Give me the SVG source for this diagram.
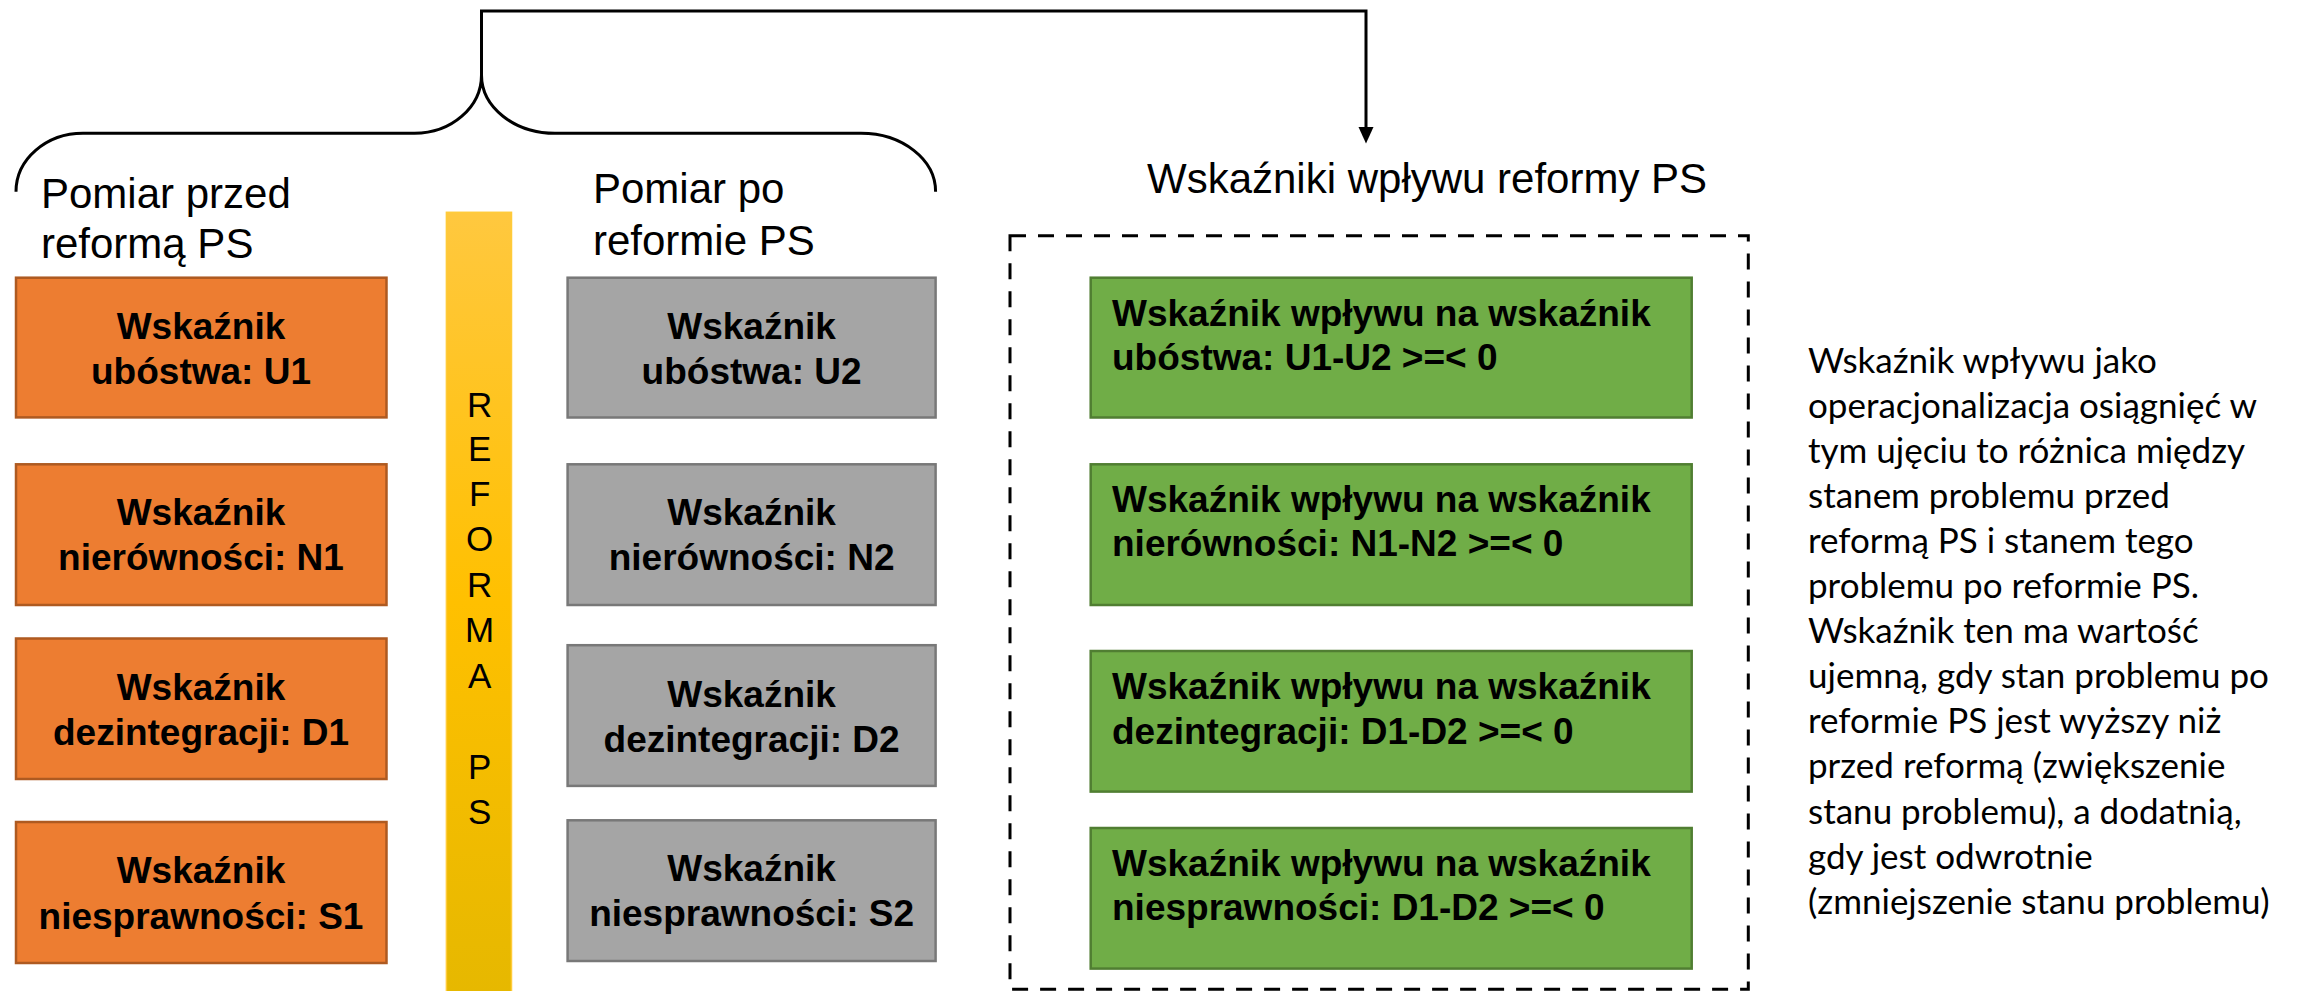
<svg xmlns="http://www.w3.org/2000/svg" width="2298" height="991" viewBox="0 0 2298 991">
<style>
.hdr{font-family:"Liberation Sans",Arial,sans-serif;font-size:42px;fill:#000}
.lbl{font-family:"Liberation Sans",Arial,sans-serif;font-size:37px;font-weight:bold;fill:#000}
.ctr{text-anchor:middle}
.orange{fill:#ED7D31;stroke:#AE5A21;stroke-width:2.5}
.gray{fill:#A5A5A5;stroke:#787878;stroke-width:2.5}
.green{fill:#70AD47;stroke:#507E32;stroke-width:2.5}
.note{font-family:Lato,"Liberation Sans",sans-serif;font-size:35px;fill:#000}
.ref{font-family:"Liberation Sans",Arial,sans-serif;font-size:35px;fill:#000;text-anchor:middle}
.line{fill:none;stroke:#000;stroke-width:3}
</style>
<defs>
<linearGradient id="yg" x1="0" y1="0" x2="0" y2="1">
<stop offset="0" stop-color="#FFC83F"/>
<stop offset="0.5" stop-color="#FFC000"/>
<stop offset="1" stop-color="#E6B800"/>
</linearGradient>
<marker id="arr" markerWidth="15" markerHeight="16" refX="7.5" refY="15" orient="auto-start-reverse" markerUnits="userSpaceOnUse" viewBox="0 0 15 16">
<path d="M0,0 L15,0 L7.5,16 Z" fill="#000"/>
</marker>
</defs>
<rect width="2298" height="991" fill="#fff"/>

<g id="connectors">
<path class="line" d="M16,191.7 A67,58.4 0 0 1 83,133.3 L414.5,133.3 A67,58.3 0 0 0 481.5,75 A73.5,58.3 0 0 0 555,133.3 L861,133.3 A74.6,58.4 0 0 1 935.6,191.7"/>
<path class="line" d="M481.5,75 L481.5,11 L1366,11 L1366,129"/>
<path d="M1358.5,127 L1373.5,127 L1366,143.5 Z" fill="#000"/>
</g>

<g id="header-before">
<text class="hdr" x="41" y="208">Pomiar przed</text>
<text class="hdr" x="41" y="258">reformą PS</text>
</g>
<g id="header-after">
<text class="hdr" x="593" y="203">Pomiar po</text>
<text class="hdr" x="593" y="255">reformie PS</text>
</g>
<g id="header-impact">
<text class="hdr" x="1147" y="193">Wskaźniki wpływu reformy PS</text>
</g>

<g id="reforma-bar">
<rect x="446.4" y="212.3" width="65.1" height="780" fill="url(#yg)" stroke="#FFCB3A" stroke-width="1.5"/>
<text class="ref" x="479.6" y="416.5">R</text>
<text class="ref" x="479.6" y="460.5">E</text>
<text class="ref" x="479.6" y="506">F</text>
<text class="ref" x="479.6" y="551.4">O</text>
<text class="ref" x="479.6" y="597">R</text>
<text class="ref" x="479.6" y="642.3">M</text>
<text class="ref" x="479.6" y="687.8">A</text>
<text class="ref" x="479.6" y="778.7">P</text>
<text class="ref" x="479.6" y="824">S</text>
</g>

<g id="u1"><rect class="orange" x="16" y="277.7" width="370.5" height="139.7"/>
<text class="lbl ctr" x="201" y="338.5">Wskaźnik</text><text class="lbl ctr" x="201" y="384">ubóstwa: U1</text></g>
<g id="n1"><rect class="orange" x="16" y="464.3" width="370.5" height="140.7"/>
<text class="lbl ctr" x="201" y="525">Wskaźnik</text><text class="lbl ctr" x="201" y="569.6">nierówności: N1</text></g>
<g id="d1"><rect class="orange" x="16" y="638.5" width="370.5" height="140.5"/>
<text class="lbl ctr" x="201" y="699.8">Wskaźnik</text><text class="lbl ctr" x="201" y="745">dezintegracji: D1</text></g>
<g id="s1"><rect class="orange" x="16" y="822" width="370.5" height="141"/>
<text class="lbl ctr" x="201" y="882.5">Wskaźnik</text><text class="lbl ctr" x="201" y="928.5">niesprawności: S1</text></g>

<g id="u2"><rect class="gray" x="567.6" y="277.7" width="368" height="139.8"/>
<text class="lbl ctr" x="751.6" y="338.5">Wskaźnik</text><text class="lbl ctr" x="751.6" y="384">ubóstwa: U2</text></g>
<g id="n2"><rect class="gray" x="567.6" y="464.3" width="368" height="140.7"/>
<text class="lbl ctr" x="751.6" y="525">Wskaźnik</text><text class="lbl ctr" x="751.6" y="569.6">nierówności: N2</text></g>
<g id="d2"><rect class="gray" x="567.6" y="645.2" width="368" height="140.7"/>
<text class="lbl ctr" x="751.6" y="707">Wskaźnik</text><text class="lbl ctr" x="751.6" y="752.4">dezintegracji: D2</text></g>
<g id="s2"><rect class="gray" x="567.6" y="820.3" width="368" height="140.7"/>
<text class="lbl ctr" x="751.6" y="880.6">Wskaźnik</text><text class="lbl ctr" x="751.6" y="925.6">niesprawności: S2</text></g>

<g id="impact-box">
<rect x="1010" y="235.7" width="738.3" height="753.5" fill="none" stroke="#000" stroke-width="3" stroke-dasharray="16 12"/>
</g>
<g id="iu"><rect class="green" x="1090.7" y="277.7" width="601" height="139.8"/>
<text class="lbl" x="1112" y="325.6">Wskaźnik wpływu na wskaźnik</text><text class="lbl" x="1112" y="369.6">ubóstwa: U1-U2 &gt;=&lt; 0</text></g>
<g id="in"><rect class="green" x="1090.7" y="464.3" width="601" height="140.7"/>
<text class="lbl" x="1112" y="512.2">Wskaźnik wpływu na wskaźnik</text><text class="lbl" x="1112" y="556.2">nierówności: N1-N2 &gt;=&lt; 0</text></g>
<g id="id"><rect class="green" x="1090.7" y="651" width="601" height="140.6"/>
<text class="lbl" x="1112" y="698.8">Wskaźnik wpływu na wskaźnik</text><text class="lbl" x="1112" y="743.8">dezintegracji: D1-D2 &gt;=&lt; 0</text></g>
<g id="is"><rect class="green" x="1090.7" y="828" width="601" height="140.6"/>
<text class="lbl" x="1112" y="875.8">Wskaźnik wpływu na wskaźnik</text><text class="lbl" x="1112" y="919.9">niesprawności: D1-D2 &gt;=&lt; 0</text></g>

<g id="note">
<text class="note" x="1808" y="372.5">Wskaźnik wpływu jako</text>
<text class="note" x="1808" y="417.6">operacjonalizacja osiągnięć w</text>
<text class="note" x="1808" y="462.7">tym ujęciu to różnica między</text>
<text class="note" x="1808" y="507.8">stanem problemu przed</text>
<text class="note" x="1808" y="552.9">reformą PS i stanem tego</text>
<text class="note" x="1808" y="598">problemu po reformie PS.</text>
<text class="note" x="1808" y="643.1">Wskaźnik ten ma wartość</text>
<text class="note" x="1808" y="688.2">ujemną, gdy stan problemu po</text>
<text class="note" x="1808" y="733.3">reformie PS jest wyższy niż</text>
<text class="note" x="1808" y="778.4">przed reformą (zwiększenie</text>
<text class="note" x="1808" y="823.5">stanu problemu), a dodatnią,</text>
<text class="note" x="1808" y="868.6">gdy jest odwrotnie</text>
<text class="note" x="1808" y="913.7">(zmniejszenie stanu problemu)</text>
</g>
</svg>
